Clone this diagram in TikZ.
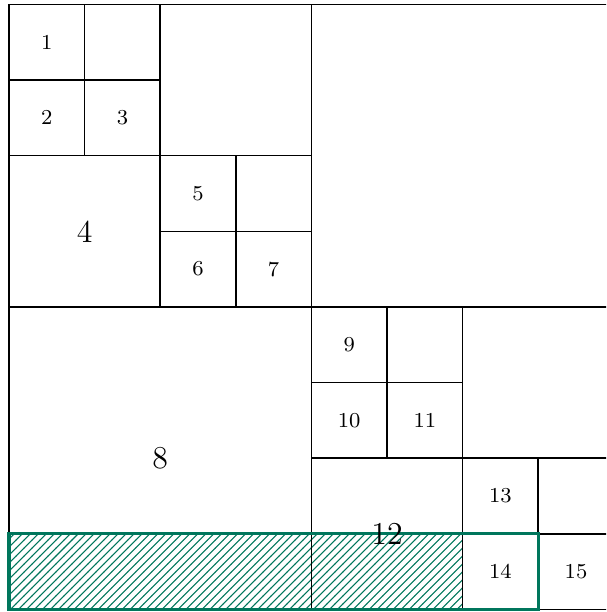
\documentclass[tikz,border=0pt]{standalone}
\usetikzlibrary{patterns}
\definecolor{hlgreen}{RGB}{0,118,92}
\begin{document}
\begin{tikzpicture}[x=1cm,y=-1cm,
  grid/.style={draw=black,line width=0.6pt},
  lbl/.style={font=\footnotesize,inner sep=0pt},
  biglbl/.style={font=\large,inner sep=0pt},
  hl/.style={draw=hlgreen,line width=1.2pt}]
\clip (-0.119,-0.0595) rectangle (7.897,8.0357);
% hatched region
\path[pattern=north east lines,pattern color=hlgreen] (0,7) rectangle (6,8);
% grid
\draw[grid] (0,0) rectangle (8,8);
\draw[grid] (4,0) -- (4,8) (0,4) -- (8,4);
\draw[grid] (2,0) -- (2,4) (0,2) -- (4,2);
\draw[grid] (1,0) -- (1,2) (0,1) -- (2,1);
\draw[grid] (3,2) -- (3,4) (2,3) -- (4,3);
\draw[grid] (6,4) -- (6,8) (4,6) -- (8,6);
\draw[grid] (5,4) -- (5,6) (4,5) -- (6,5);
\draw[grid] (7,6) -- (7,8) (6,7) -- (8,7);
% highlight border
\draw[hl] (0,7) rectangle (7,8);
% labels
\node[lbl] (n1) at (0.5,0.5) {1};
\node[lbl] (n2) at (0.5,1.5) {2};
\node[lbl] (n3) at (1.5,1.5) {3};
\node[biglbl] (n4) at (1,3) {4};
\node[lbl] (n5) at (2.5,2.5) {5};
\node[lbl] (n6) at (2.5,3.5) {6};
\node[lbl] (n7) at (3.5,3.5) {7};
\node[biglbl] (n8) at (2,6) {8};
\node[lbl] (n9) at (4.5,4.5) {9};
\node[lbl] (n10) at (4.5,5.5) {10};
\node[lbl] (n11) at (5.5,5.5) {11};
\node[biglbl] (n12) at (5,7) {12};
\node[lbl] (n13) at (6.5,6.5) {13};
\node[lbl] (n14) at (6.5,7.5) {14};
\node[lbl] (n15) at (7.5,7.5) {15};
\end{tikzpicture}
\end{document}
